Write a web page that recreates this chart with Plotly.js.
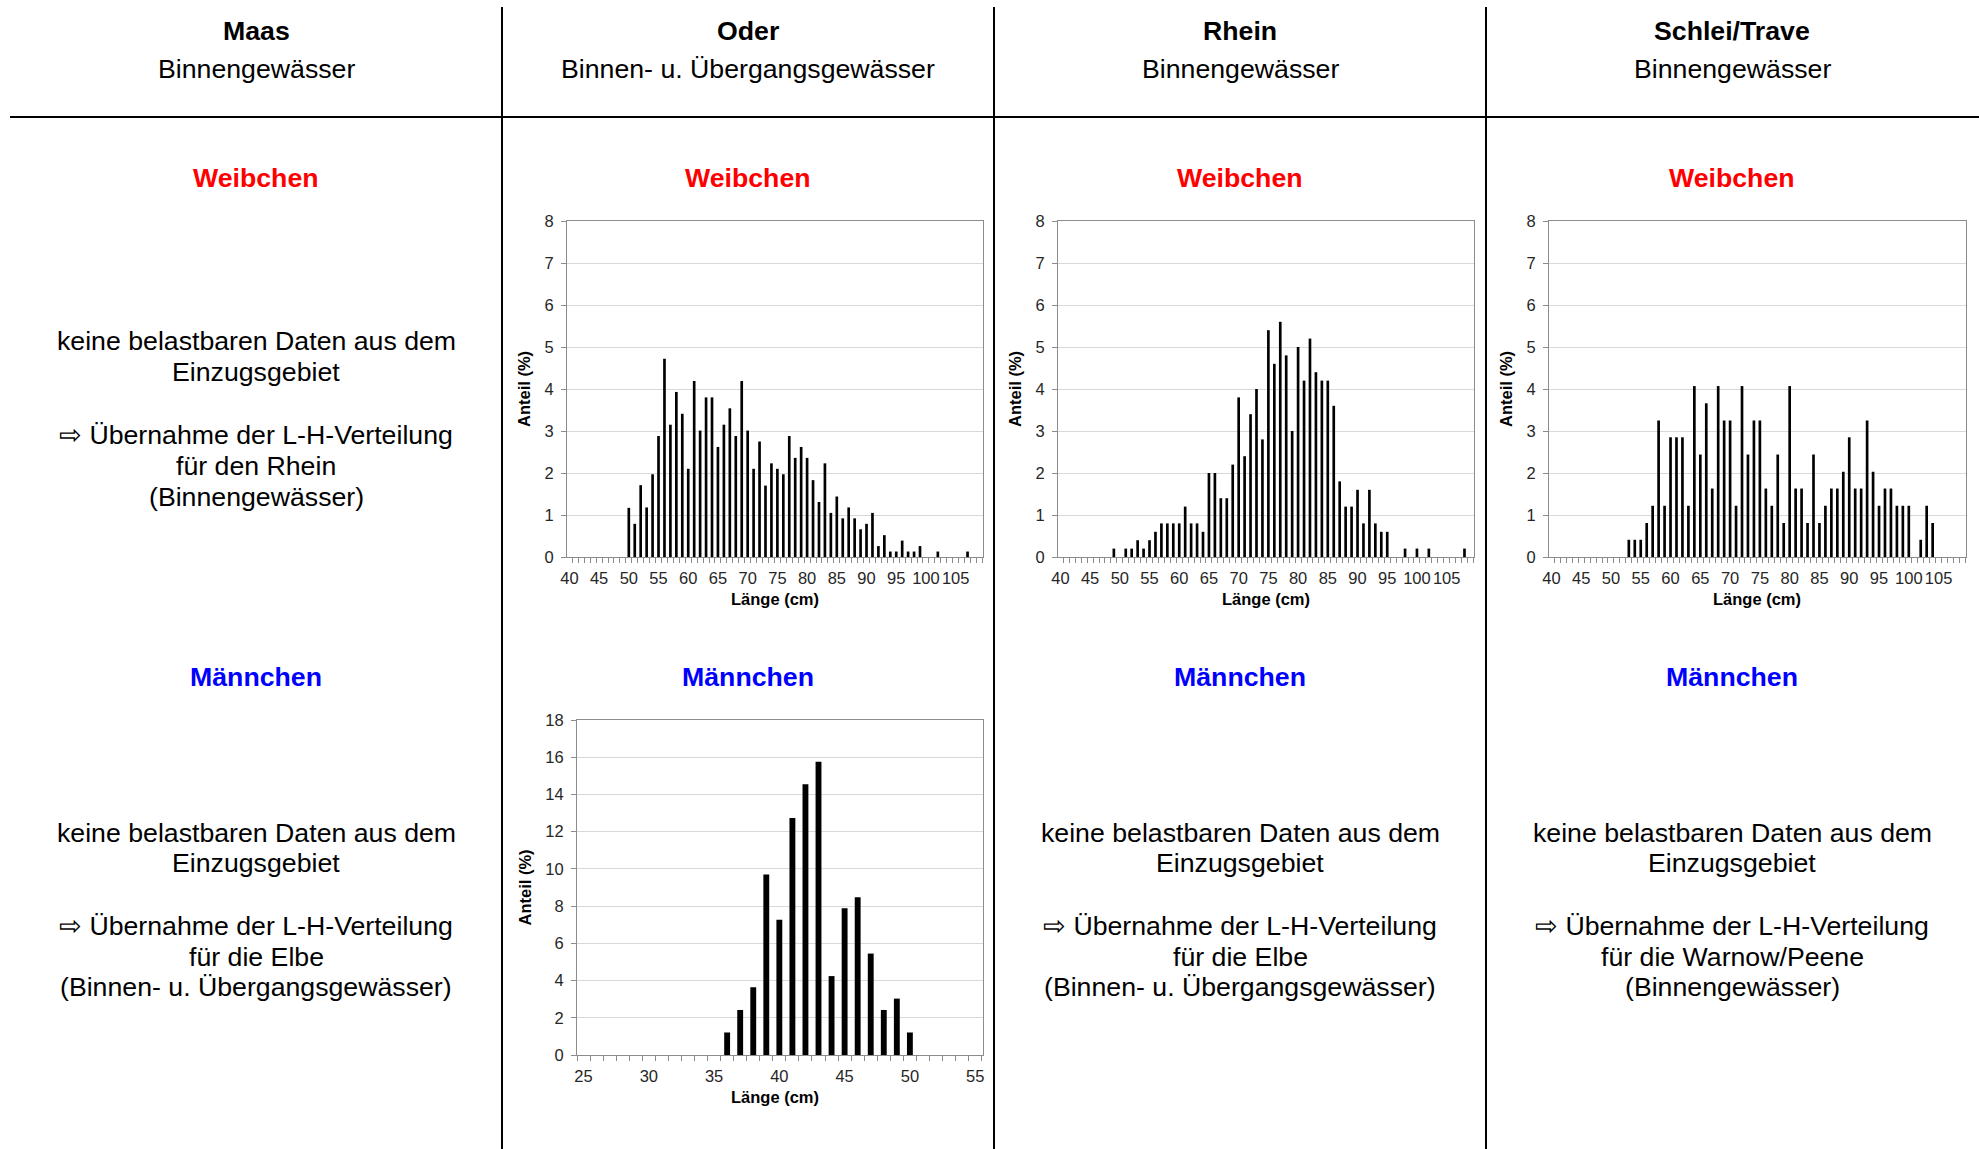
<!DOCTYPE html>
<html><head><meta charset="utf-8">
<script src="https://cdn.plot.ly/plotly-3.0.1.min.js"></script>
<style>html,body{margin:0;padding:0;background:#fff;overflow:hidden;} #chart{width:1979px;height:1149px;}</style>
</head><body><div id="chart"></div>
<script>
// ---------- texts ----------
const regions = ['Maas', 'Oder', 'Rhein', 'Schlei/Trave'];
const waterBodies = ['Binnengewässer', 'Binnen- u. Übergangsgewässer', 'Binnengewässer', 'Binnengewässer'];
const femaleLabel = 'Weibchen';
const maleLabel = 'Männchen';
const noteMaasFemale = ['keine belastbaren Daten aus dem', 'Einzugsgebiet', '⇨ Übernahme der L-H-Verteilung', 'für den Rhein', '(Binnengewässer)'];
const noteMaasMale = ['keine belastbaren Daten aus dem', 'Einzugsgebiet', '⇨ Übernahme der L-H-Verteilung', 'für die Elbe', '(Binnen- u. Übergangsgewässer)'];
const noteRheinMale = ['keine belastbaren Daten aus dem', 'Einzugsgebiet', '⇨ Übernahme der L-H-Verteilung', 'für die Elbe', '(Binnen- u. Übergangsgewässer)'];
const noteSchleiMale = ['keine belastbaren Daten aus dem', 'Einzugsgebiet', '⇨ Übernahme der L-H-Verteilung', 'für die Warnow/Peene', '(Binnengewässer)'];
const xTitle = 'Länge (cm)';
const yTitle = 'Anteil (%)';

// ---------- data ----------
const oderFemaleLength = [50,51,52,53,54,55,56,57,58,59,60,61,62,63,64,65,66,67,68,69,70,71,72,73,74,75,76,77,78,79,80,81,82,83,84,85,86,87,88,89,90,91,92,93,94,95,96,97,98,99,102,107];
const oderFemaleShare  = [1.17,0.79,1.71,1.18,1.97,2.88,4.72,3.15,3.93,3.41,2.10,4.19,3.01,3.80,3.80,2.62,3.15,3.54,2.88,4.19,3.01,2.10,2.75,1.70,2.23,2.10,1.97,2.88,2.36,2.62,2.36,1.83,1.31,2.23,1.05,1.44,0.92,1.18,0.92,0.66,0.79,1.05,0.26,0.52,0.13,0.13,0.39,0.13,0.13,0.26,0.13,0.13];

const rheinFemaleLength = [49,51,52,53,54,55,56,57,58,59,60,61,62,63,64,65,66,67,68,69,70,71,72,73,74,75,76,77,78,79,80,81,82,83,84,85,86,87,88,89,90,91,92,93,94,95,98,100,102,108];
const rheinFemaleShare  = [0.2,0.2,0.2,0.4,0.2,0.4,0.6,0.8,0.8,0.8,0.8,1.2,0.8,0.8,0.6,2.0,2.0,1.4,1.4,2.2,3.8,2.4,3.4,4.0,2.8,5.4,4.6,5.6,4.8,3.0,5.0,4.2,5.2,4.4,4.2,4.2,3.6,1.8,1.2,1.2,1.6,0.8,1.6,0.8,0.6,0.6,0.2,0.2,0.2,0.2];

const schleiFemaleLength = [53,54,55,56,57,58,59,60,61,62,63,64,65,66,67,68,69,70,71,72,73,74,75,76,77,78,79,80,81,82,83,84,85,86,87,88,89,90,91,92,93,94,95,96,97,98,99,100,102,103,104];
const schleiFemaleShare  = [0.41,0.41,0.41,0.81,1.22,3.25,1.22,2.85,2.85,2.85,1.22,4.07,2.44,3.66,1.63,4.07,3.25,3.25,1.22,4.07,2.44,3.25,3.25,1.63,1.22,2.44,0.81,4.07,1.63,1.63,0.81,2.44,0.81,1.22,1.63,1.63,2.03,2.85,1.63,1.63,3.25,2.03,1.22,1.63,1.63,1.22,1.22,1.22,0.41,1.22,0.81];

const oderMaleLength = [36,37,38,39,40,41,42,43,44,45,46,47,48,49,50];
const oderMaleShare  = [1.21,2.42,3.64,9.70,7.27,12.73,14.55,15.76,4.24,7.88,8.48,5.45,2.42,3.03,1.21];

// ---------- layout helpers ----------
const W = 1979, H = 1149;
const px = x => x / W;
const py = y => 1 - y / H;
const FONT = 'Liberation Sans, Arial, sans-serif';
const colCenters = [256, 748, 1240, 1732];

const boxes = {
  f1: {x0: 567, x1: 983, y0: 221, y1: 557, tx: 775, ty: 524},   // Oder female
  f2: {x0: 1058, x1: 1474, y0: 221, y1: 557, tx: 1266, ty: 1015}, // Rhein female
  f3: {x0: 1549, x1: 1966, y0: 221, y1: 557, tx: 1757, ty: 1506}, // Schlei female
  m1: {x0: 577, x1: 983, y0: 720, y1: 1055, tx: 775, ty: 524}   // Oder male
};

function xAxis(box, range, tick0, yId) {
  return {
    domain: [px(box.x0), px(box.x1)], anchor: yId, range: range,
    tick0: tick0, dtick: 5, ticks: '', showgrid: false, zeroline: false,
    showline: true, linecolor: '#8c8c8c', linewidth: 1, mirror: true,
    tickfont: {family: FONT, size: 16.5, color: '#262626'},
    ticklabelstandoff: 6,
    minor: {tick0: 0.5, dtick: 1, ticks: 'outside', ticklen: 5, tickcolor: '#8c8c8c', tickwidth: 1, showgrid: false},
    fixedrange: true
  };
}
function yAxis(box, range, dtick, xId) {
  return {
    domain: [py(box.y1), py(box.y0)], anchor: xId, range: range,
    dtick: dtick, tick0: 0, ticks: 'outside', ticklen: 5, tickcolor: '#8c8c8c',
    showgrid: true, gridcolor: '#d9d9d9', gridwidth: 1, zeroline: false,
    showline: true, linecolor: '#8c8c8c', linewidth: 1, mirror: true,
    tickfont: {family: FONT, size: 16.5, color: '#262626'},
    ticklabelstandoff: 4,
    fixedrange: true
  };
}

const barStyle = {type: 'bar', marker: {color: '#000000', line: {width: 0}}, hoverinfo: 'skip', showlegend: false};
const data = [
  Object.assign({x: oderFemaleLength, y: oderFemaleShare, xaxis: 'x', yaxis: 'y'}, barStyle),
  Object.assign({x: rheinFemaleLength, y: rheinFemaleShare, xaxis: 'x2', yaxis: 'y2'}, barStyle),
  Object.assign({x: schleiFemaleLength, y: schleiFemaleShare, xaxis: 'x3', yaxis: 'y3'}, barStyle),
  Object.assign({x: oderMaleLength, y: oderMaleShare, xaxis: 'x4', yaxis: 'y4'}, barStyle)
];

// ---------- annotations ----------
const ann = [];
function txt(text, x, y, opts) {
  ann.push(Object.assign({
    text: text, x: px(x), y: py(y), xref: 'paper', yref: 'paper',
    xanchor: 'center', yanchor: 'middle', showarrow: false,
    font: {family: FONT, size: 26.7, color: '#000'}
  }, opts || {}));
}
regions.forEach((r, i) => {
  txt('<b>' + r + '</b>', colCenters[i], 31);
  txt(waterBodies[i], colCenters[i], 69);
  txt('<b>' + femaleLabel + '</b>', colCenters[i], 178, {font: {family: FONT, size: 26.7, color: '#ff0000'}});
  txt('<b>' + maleLabel + '</b>', colCenters[i], 677, {font: {family: FONT, size: 26.7, color: '#0000ff'}});
});
const noteYsTop = [341, 372, 435, 466, 497];
const noteYsBottom = [833, 863, 926, 957, 987];
noteMaasFemale.forEach((t, k) => txt(t, colCenters[0], noteYsTop[k]));
noteMaasMale.forEach((t, k) => txt(t, colCenters[0], noteYsBottom[k]));
noteRheinMale.forEach((t, k) => txt(t, colCenters[2], noteYsBottom[k]));
noteSchleiMale.forEach((t, k) => txt(t, colCenters[3], noteYsBottom[k]));

const axisFont = {family: FONT, size: 16.5, color: '#000'};
Object.values(boxes).forEach(b => {
  txt('<b>' + xTitle + '</b>', b.tx, b.y1 + 42, {font: axisFont});
  txt('<b>' + yTitle + '</b>', b.ty, (b.y0 + b.y1) / 2, {font: axisFont, textangle: -90});
});

// ---------- table lines ----------
const lineStyle = {color: '#000', width: 2};
const shapes = [
  {type: 'line', xref: 'paper', yref: 'paper', x0: px(10), x1: px(1979), y0: py(117), y1: py(117), line: lineStyle},
  {type: 'line', xref: 'paper', yref: 'paper', x0: px(502), x1: px(502), y0: py(7), y1: py(1149), line: lineStyle},
  {type: 'line', xref: 'paper', yref: 'paper', x0: px(994), x1: px(994), y0: py(7), y1: py(1149), line: lineStyle},
  {type: 'line', xref: 'paper', yref: 'paper', x0: px(1486), x1: px(1486), y0: py(7), y1: py(1149), line: lineStyle}
];

const layout = {
  width: W, height: H, margin: {l: 0, r: 0, t: 0, b: 0},
  paper_bgcolor: '#fff', plot_bgcolor: '#fff',
  showlegend: false, bargap: 0.55, hovermode: false,
  font: {family: FONT},
  xaxis: xAxis(boxes.f1, [39.6, 109.6], 40, 'y'),
  yaxis: yAxis(boxes.f1, [0, 8], 1, 'x'),
  xaxis2: xAxis(boxes.f2, [39.6, 109.6], 40, 'y2'),
  yaxis2: yAxis(boxes.f2, [0, 8], 1, 'x2'),
  xaxis3: xAxis(boxes.f3, [39.6, 109.6], 40, 'y3'),
  yaxis3: yAxis(boxes.f3, [0, 8], 1, 'x3'),
  xaxis4: xAxis(boxes.m1, [24.5, 55.6], 25, 'y4'),
  yaxis4: yAxis(boxes.m1, [0, 18], 2, 'x4'),
  annotations: ann,
  shapes: shapes
};

Plotly.newPlot('chart', data, layout, {staticPlot: true, displayModeBar: false});
</script>
</body></html>
